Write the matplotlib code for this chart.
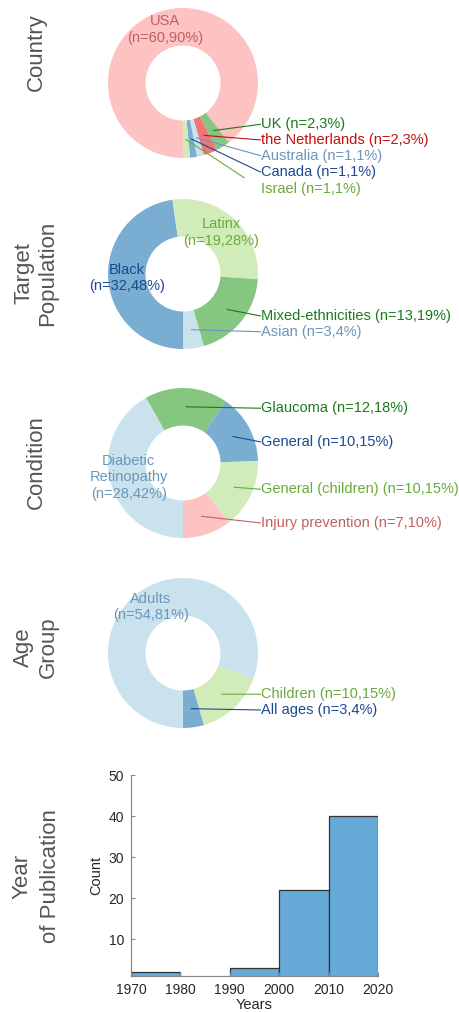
import matplotlib
matplotlib.use('Agg')
import matplotlib.pyplot as plt
import matplotlib.colors as mcolors
import numpy as np

plt.rcParams['font.family'] = ['Liberation Sans', 'DejaVu Sans']

# ---- data ----
country_names = ['USA', 'UK', 'the Netherlands', 'Australia', 'Canada', 'Israel']
country_n = [60, 2, 2, 1, 1, 1]
country_col = ['pink', 'green', 'red', 'lblue', 'blue', 'lgreen']

pop_names = ['Black', 'Latinx', 'Mixed-ethnicities', 'Asian']
pop_n = [32, 19, 13, 3]
pop_col = ['blue', 'lgreen', 'green', 'lblue']

cond_names = ['Diabetic\nRetinopathy', 'Glaucoma', 'General', 'General (children)', 'Injury prevention']
cond_n = [28, 12, 10, 10, 7]
cond_col = ['lblue', 'green', 'blue', 'lgreen', 'pink']

age_names = ['Adults', 'Children', 'All ages']
age_n = [54, 10, 3]
age_col = ['lblue', 'lgreen', 'blue']

year_edges = [1970, 1980, 1990, 2000, 2010, 2020]
year_counts = [2, 0, 3, 22, 40]

# paired palette: wedge base colour and darker text colour
base = {'lblue': '#a6cee3', 'blue': '#1f78b4', 'lgreen': '#b2df8a',
        'green': '#33a02c', 'pink': '#fb9a99', 'red': '#e31a1c'}
textc = {'lblue': '#6b96bb', 'blue': '#1b4a8f', 'lgreen': '#6aaa3c',
         'green': '#1a7a1a', 'pink': '#c06060', 'red': '#c01010'}


def faded(c, a=0.6):
    r = np.array(mcolors.to_rgb(c))
    return tuple(1 - a * (1 - r))


W, H = 459, 1013
fig = plt.figure(figsize=(W / 100, H / 100), dpi=100)
SC = 75.0  # px per unit radius
CX = 183.0


def side_title(yc, title, ls):
    fig.text(36 / W, 1 - yc / H, title, rotation=90, ha='center', va='center',
             fontsize=16, color='#555555', multialignment='center',
             linespacing=ls)


def donut(yc, names, n, cols, n_inner, outer_y):
    half = 95.0
    ax = fig.add_axes([0, (H - (yc + half)) / H, 1, 2 * half / H])
    total = sum(n)
    wedges, _ = ax.pie(n, startangle=270, counterclock=False,
                       colors=[faded(base[c]) for c in cols],
                       wedgeprops=dict(width=0.5, edgecolor='none'))
    ax.set_aspect('auto')
    ax.set_xlim(-CX / SC, (W - CX) / SC)
    ax.set_ylim(-half / SC, half / SC)
    ax.axis('off')
    for i, (w, name, k, c) in enumerate(zip(wedges, names, n, cols)):
        mid = np.deg2rad((w.theta1 + w.theta2) / 2)
        px, py = 0.75 * np.cos(mid), 0.75 * np.sin(mid)
        pct = round(100 * k / total)
        if i < n_inner:
            ax.text(px, py, f'{name}\n(n={k},{pct}%)', ha='center', va='center',
                    fontsize=10.5, color=textc[c], multialignment='center',
                    clip_on=False, linespacing=1.25)
        else:
            ty = outer_y[i - n_inner]
            ax.plot([px, 1.04], [py, ty], color=textc[c], lw=0.8,
                    solid_capstyle='butt')
            ax.text(1.045, ty, f'{name} (n={k},{pct}%)', ha='left', va='center',
                    fontsize=10.5, color=textc[c], clip_on=False)


donut(83, country_names, country_n, country_col, 1,
      [-0.55, -0.76, -0.97, -1.19, -1.41])
donut(274, pop_names, pop_n, pop_col, 2, [-0.56, -0.77])
donut(463, cond_names, cond_n, cond_col, 1, [0.73, 0.28, -0.35, -0.80])
donut(653, age_names, age_n, age_col, 1, [-0.55, -0.76])

side_title(52, 'Country', 1.15)
side_title(273, 'Target\nPopulation', 1.15)
side_title(462, 'Condition', 1.15)
side_title(647, 'Age\nGroup', 1.25)
side_title(876, 'Year\nof Publication', 1.45)

# ---- histogram ----
ax = fig.add_axes([131 / W, (H - 976) / H, 247 / W, 201 / H])
ax.bar(year_edges[:-1], year_counts, width=10, align='edge',
       color='#66aad7', edgecolor='#333333', linewidth=0.9)
ax.set_xlim(1970, 2020)
ax.set_ylim(1, 50)
ax.set_xticks(year_edges)
ax.set_yticks([10, 20, 30, 40, 50])
for s in ['top', 'right']:
    ax.spines[s].set_visible(False)
for s in ['left', 'bottom']:
    ax.spines[s].set_color('#888888')
    ax.spines[s].set_linewidth(0.9)
ax.tick_params(direction='in', length=3, color='#888888', labelsize=10,
               labelcolor='#262626', pad=5)
ax.set_xlabel('Years', fontsize=10.5, color='#262626', labelpad=1)
ax.set_ylabel('Count', fontsize=10.5, color='#262626', labelpad=4)

fig.savefig('out.png', dpi=100)
